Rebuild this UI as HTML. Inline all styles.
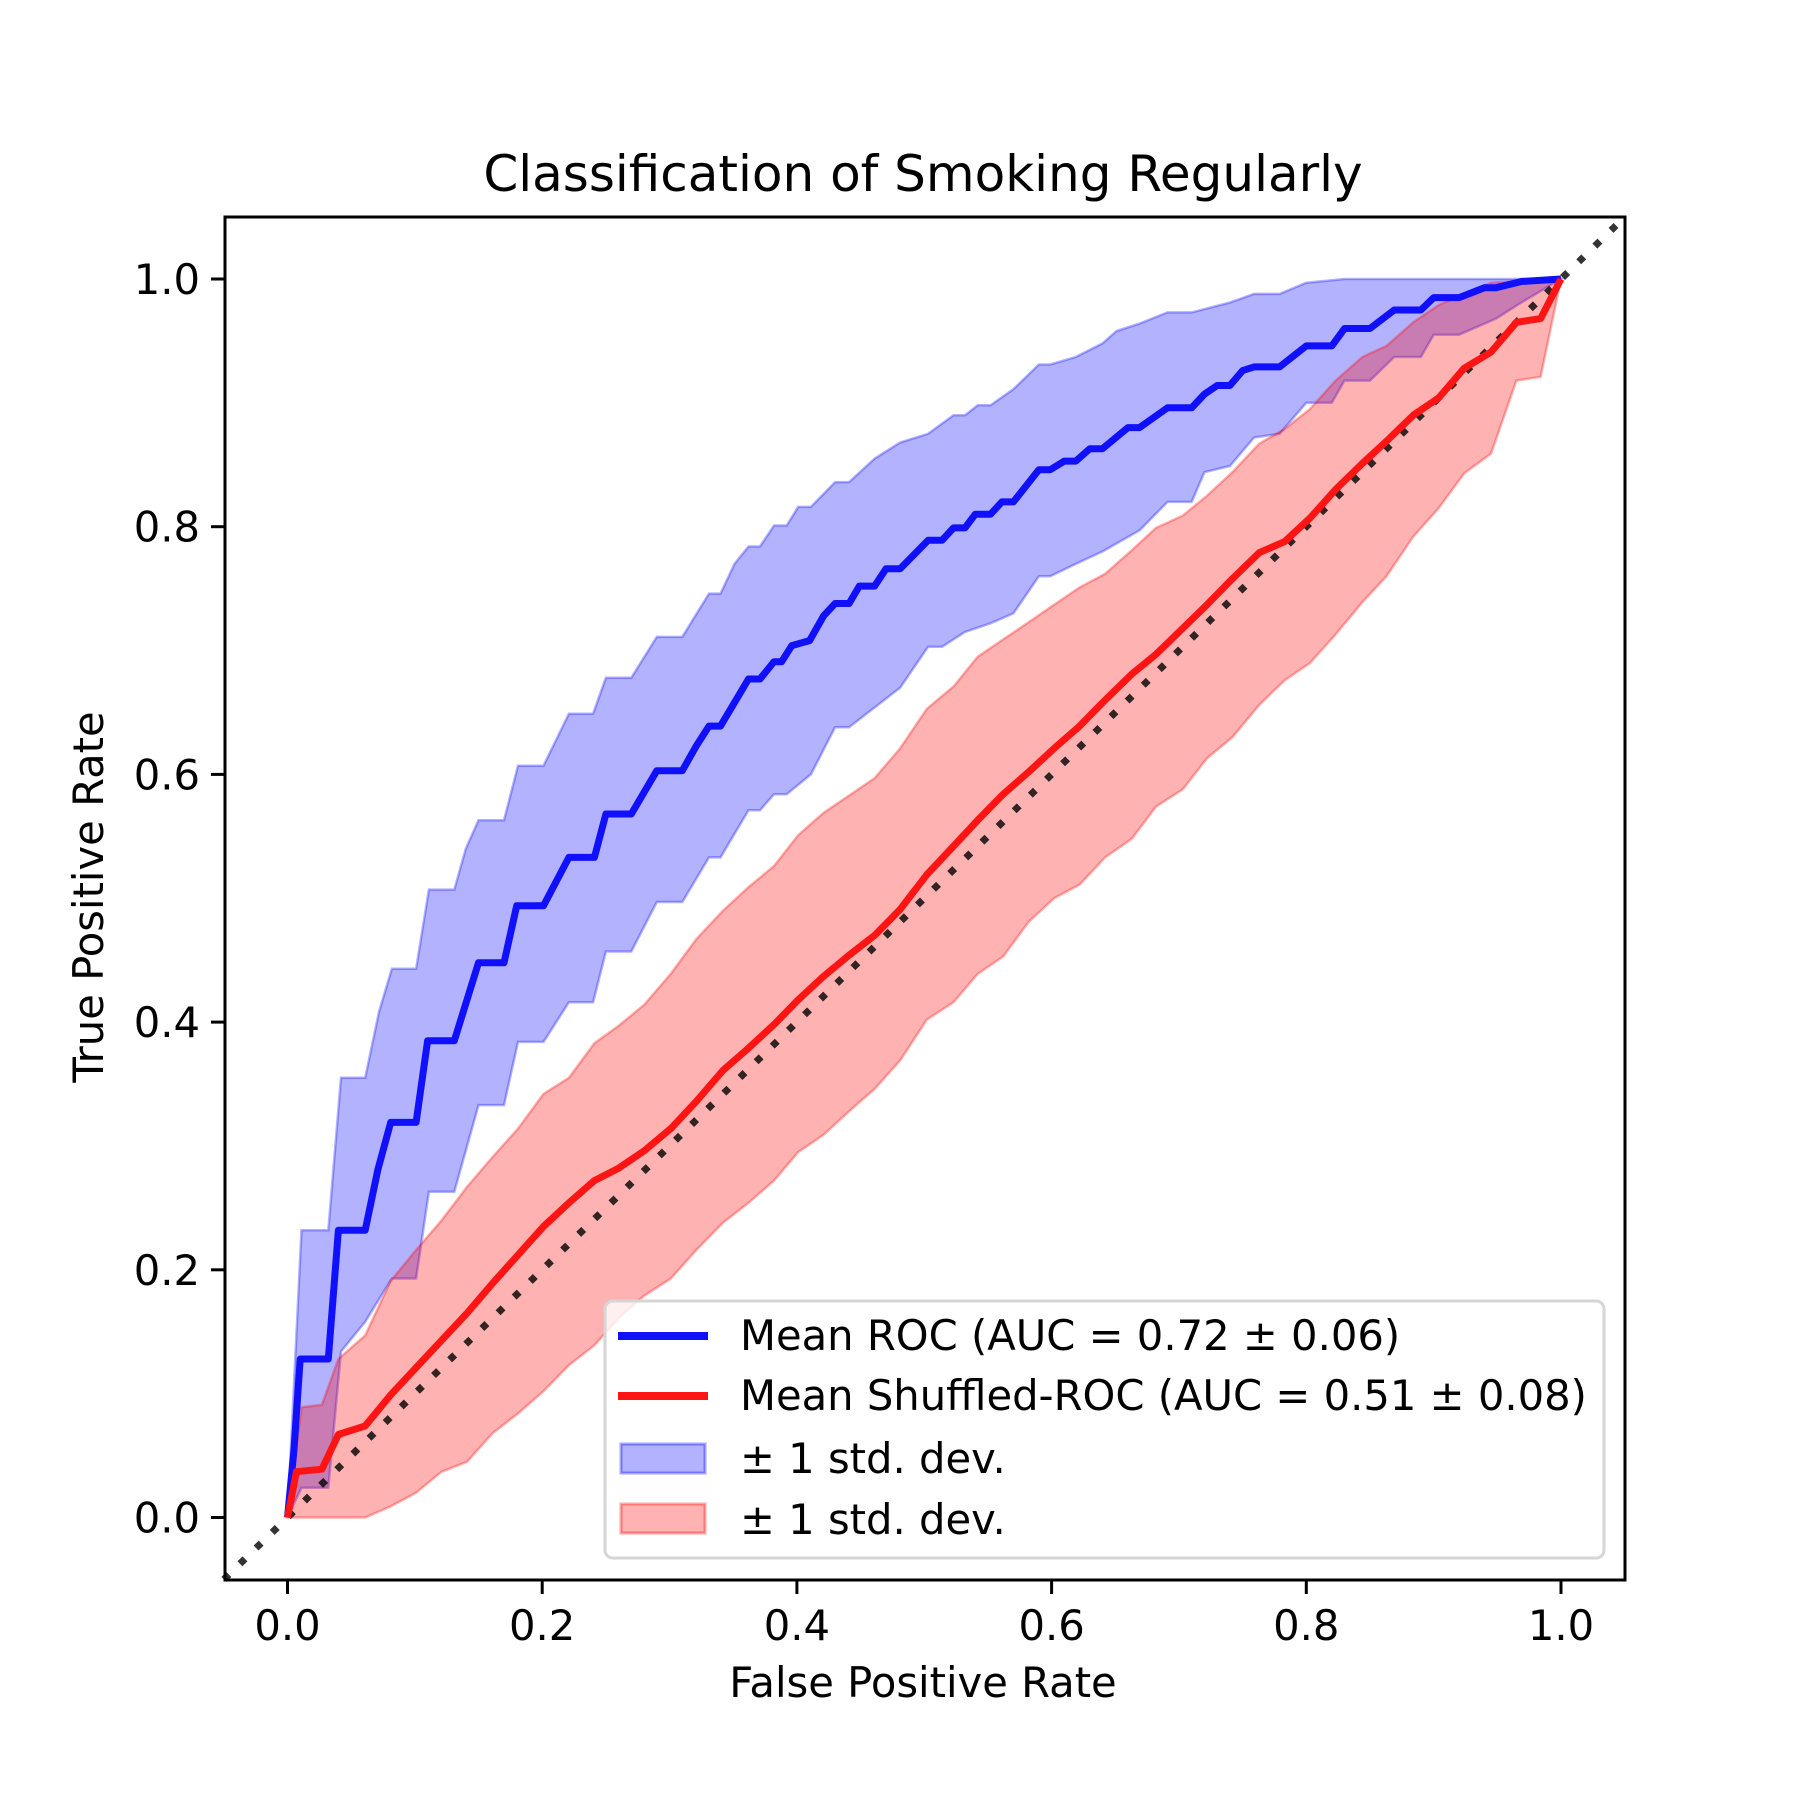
<!DOCTYPE html>
<html><head><meta charset="utf-8"><style>
html,body{margin:0;padding:0;background:#fff;}
svg text{font-family:"DejaVu Sans","Liberation Sans",sans-serif;fill:#000;}
</style></head><body>
<svg id="chart" width="1800" height="1800" viewBox="0 0 1800 1800" xmlns="http://www.w3.org/2000/svg">
<rect width="1800" height="1800" fill="#fff"/>
<g id="plot"></g>
<text x="923" y="191" font-size="50" text-anchor="middle">Classification of Smoking Regularly</text>
<text x="923" y="1697" font-size="41.7" text-anchor="middle">False Positive Rate</text>
<text x="0" y="0" font-size="41.7" text-anchor="middle" transform="translate(103,897) rotate(-90)">True Positive Rate</text>
<g id="ticks"></g>
<rect x="225" y="217" width="1400" height="1363" fill="none" stroke="#000" stroke-width="3"/>
<g>
<rect x="605" y="1301" width="999" height="257" rx="8" fill="#fff" fill-opacity="0.8" stroke="#d6d6d6" stroke-width="3"/>
<line x1="618" y1="1336" x2="708" y2="1336" stroke="#1010ff" stroke-width="8"/>
<text x="740" y="1350" font-size="41.7">Mean ROC (AUC = 0.72 ± 0.06)</text>
<line x1="618" y1="1396" x2="708" y2="1396" stroke="#ff1414" stroke-width="8"/>
<text x="740" y="1410" font-size="41.7">Mean Shuffled-ROC (AUC = 0.51 ± 0.08)</text>
<rect x="621" y="1444" width="84" height="29" fill="rgba(0,0,255,0.3)" stroke="rgba(0,0,255,0.35)" stroke-width="3"/>
<text x="740" y="1473" font-size="41.7">± 1 std. dev.</text>
<rect x="621" y="1504" width="84" height="29" fill="rgba(255,0,0,0.3)" stroke="rgba(255,0,0,0.35)" stroke-width="3"/>
<text x="740" y="1534" font-size="41.7">± 1 std. dev.</text>
</g>
</svg>
<script>
const xTicks = [0, 0.2, 0.4, 0.6, 0.8, 1.0];
const yTicks = [0, 0.2, 0.4, 0.6, 0.8, 1.0];
const tickLabels = ["0.0", "0.2", "0.4", "0.6", "0.8", "1.0"];
const blueX = [0,.005,.010,.032,.040,.061,.071,.081,.101,.110,.131,.150,.170,.180,.201,.221,.241,.250,.270,.290,.310,.321,.331,.340,.362,.371,.382,.388,.396,.410,.421,.430,.441,.449,.461,.470,.481,.503,.514,.523,.532,.540,.552,.561,.570,.590,.599,.610,.619,.630,.640,.660,.669,.691,.710,.720,.730,.740,.750,.759,.779,.800,.820,.830,.850,.869,.890,.900,.920,.940,.949,.969,1];
const blueY = [0,.054,.128,.128,.232,.232,.281,.319,.319,.385,.385,.448,.448,.494,.494,.533,.533,.568,.568,.603,.603,.623,.639,.639,.677,.677,.691,.691,.704,.708,.728,.738,.738,.752,.752,.766,.766,.789,.789,.799,.799,.810,.810,.820,.820,.846,.846,.853,.853,.863,.863,.880,.880,.896,.896,.907,.914,.914,.926,.929,.929,.946,.946,.960,.960,.975,.975,.985,.985,.993,.993,.998,1];
const blueUpX = [0,.011,.032,.042,.061,.072,.082,.101,.111,.131,.140,.150,.170,.181,.201,.221,.240,.250,.270,.290,.310,.331,.340,.351,.362,.371,.382,.392,.401,.411,.430,.441,.461,.481,.503,.523,.532,.542,.552,.570,.590,.599,.619,.640,.651,.669,.691,.710,.740,.759,.779,.800,.830,1];
const blueUpY = [0,.232,.232,.355,.355,.409,.443,.443,.507,.507,.540,.563,.563,.607,.607,.649,.649,.678,.678,.711,.711,.746,.746,.770,.784,.784,.801,.801,.816,.816,.836,.836,.855,.868,.875,.890,.890,.898,.898,.911,.931,.931,.937,.948,.958,.964,.973,.973,.981,.988,.988,.997,1,1];
const blueLoX = [0,.011,.032,.042,.061,.082,.101,.111,.131,.150,.170,.181,.201,.221,.240,.250,.270,.290,.310,.331,.340,.362,.371,.382,.392,.411,.430,.441,.461,.481,.503,.514,.532,.552,.570,.590,.599,.619,.640,.669,.691,.710,.720,.740,.759,.779,.800,.820,.830,.850,.869,.890,.900,.920,.949,.969,1];
const blueLoY = [0,.024,.024,.134,.158,.193,.193,.263,.263,.333,.333,.384,.384,.416,.416,.457,.457,.497,.497,.533,.533,.571,.571,.584,.584,.600,.638,.638,.654,.670,.703,.703,.715,.722,.730,.760,.760,.770,.780,.797,.820,.820,.844,.849,.872,.875,.900,.900,.918,.918,.937,.937,.955,.955,.968,.981,1];
const redX = [0,.007,.027,.040,.061,.081,.101,.121,.141,.161,.181,.201,.221,.241,.260,.280,.301,.321,.342,.362,.382,.401,.421,.441,.461,.481,.502,.523,.542,.562,.582,.602,.622,.642,.663,.682,.703,.722,.742,.763,.783,.803,.823,.844,.863,.884,.904,.924,.945,.965,.984,1];
const redY = [0,.037,.039,.067,.074,.099,.121,.143,.165,.189,.212,.235,.254,.272,.282,.296,.314,.336,.361,.379,.398,.418,.437,.454,.470,.491,.519,.542,.563,.584,.602,.621,.639,.660,.681,.697,.718,.737,.758,.779,.788,.807,.830,.851,.869,.890,.904,.928,.941,.965,.968,1];
const redUpX = [0,.011,.027,.040,.061,.081,.101,.121,.141,.161,.181,.201,.221,.241,.260,.280,.301,.321,.342,.362,.382,.401,.421,.441,.461,.481,.502,.523,.542,.562,.582,.602,.622,.642,.663,.682,.703,.722,.742,.763,.783,.803,.823,.844,.863,.884,.904,.924,.945,1];
const redUpY = [0,.089,.091,.128,.147,.191,.216,.240,.267,.291,.314,.342,.355,.383,.397,.414,.439,.467,.490,.509,.526,.551,.569,.583,.597,.621,.653,.671,.695,.709,.723,.737,.751,.762,.781,.799,.809,.825,.844,.867,.879,.895,.918,.937,.946,.965,.979,.988,.997,1];
const redLoX = [0,.061,.081,.101,.121,.141,.161,.181,.201,.221,.241,.260,.280,.301,.321,.342,.362,.382,.401,.421,.441,.461,.481,.502,.523,.542,.562,.582,.602,.622,.642,.663,.682,.703,.722,.742,.763,.783,.803,.823,.844,.863,.884,.904,.924,.945,.965,.984,1];
const redLoY = [0,0,.009,.020,.037,.045,.068,.084,.102,.123,.139,.161,.179,.193,.216,.238,.254,.272,.295,.309,.328,.346,.369,.402,.416,.439,.453,.481,.500,.511,.533,.548,.574,.588,.613,.630,.656,.676,.690,.713,.739,.760,.792,.815,.843,.859,.918,.921,1];

const NS = 'http://www.w3.org/2000/svg';
const X0 = 287.5, XS = 1273.5, Y0 = 1517.5, YS = 1238.5;
function sx(v){ return X0 + v*XS; }
function sy(v){ return Y0 - v*YS; }
function pts(xs, ys){ return xs.map((x,i)=>sx(x).toFixed(1)+','+sy(ys[i]).toFixed(1)); }
const plot = document.getElementById('plot');
const ticks = document.getElementById('ticks');

function band(ux, uy, lx, ly, fill, stroke, name){
  const p = document.createElementNS(NS,'polygon');
  const up = pts(ux, uy);
  const lo = pts(lx, ly).reverse();
  p.setAttribute('points', up.concat(lo).join(' '));
  p.setAttribute('fill', fill);
  p.setAttribute('stroke', stroke);
  p.setAttribute('stroke-width', '2.5');
  
  
  plot.appendChild(p);
}
function line(xs, ys, color, name){
  const p = document.createElementNS(NS,'polyline');
  p.setAttribute('points', pts(xs, ys).join(' '));
  p.setAttribute('fill', 'none');
  p.setAttribute('stroke', color);
  p.setAttribute('stroke-width', '7');
  p.setAttribute('stroke-linejoin', 'round');
  
  
  plot.appendChild(p);
}
band(blueUpX, blueUpY, blueLoX, blueLoY, 'rgba(0,0,255,0.3)', 'rgba(0,0,255,0.3)', 'blue-std-band');
band(redUpX, redUpY, redLoX, redLoY, 'rgba(255,0,0,0.3)', 'rgba(255,0,0,0.3)', 'red-std-band');

const diag = document.createElementNS(NS,'line');
diag.setAttribute('x1', sx(-0.05)); diag.setAttribute('y1', sy(-0.05));
diag.setAttribute('x2', sx(1.05)); diag.setAttribute('y2', sy(1.05));
diag.setAttribute('stroke', 'rgba(0,0,0,0.8)');
diag.setAttribute('stroke-width', '7');
diag.setAttribute('stroke-dasharray', '7 15.5');


plot.appendChild(diag);

line(blueX, blueY, '#1010ff', 'mean-roc-line');
line(redX, redY, '#ff1414', 'mean-shuffled-roc-line');

xTicks.forEach((v,i)=>{
  const t = document.createElementNS(NS,'line');
  t.setAttribute('x1', sx(v)); t.setAttribute('x2', sx(v));
  t.setAttribute('y1', 1580); t.setAttribute('y2', 1594);
  t.setAttribute('stroke', '#000'); t.setAttribute('stroke-width', '3');
  
  
  ticks.appendChild(t);
  const l = document.createElementNS(NS,'text');
  l.setAttribute('x', sx(v)); l.setAttribute('y', 1640);
  l.setAttribute('font-size', '41.7'); l.setAttribute('text-anchor', 'middle');
  l.textContent = tickLabels[i];
  
  
  ticks.appendChild(l);
});
yTicks.forEach((v,i)=>{
  const t = document.createElementNS(NS,'line');
  t.setAttribute('x1', 211); t.setAttribute('x2', 225);
  t.setAttribute('y1', sy(v)); t.setAttribute('y2', sy(v));
  t.setAttribute('stroke', '#000'); t.setAttribute('stroke-width', '3');
  
  
  ticks.appendChild(t);
  const l = document.createElementNS(NS,'text');
  l.setAttribute('x', 200); l.setAttribute('y', sy(v)+15);
  l.setAttribute('font-size', '41.7'); l.setAttribute('text-anchor', 'end');
  l.textContent = tickLabels[i];
  
  
  ticks.appendChild(l);
});
</script>
</body></html>
